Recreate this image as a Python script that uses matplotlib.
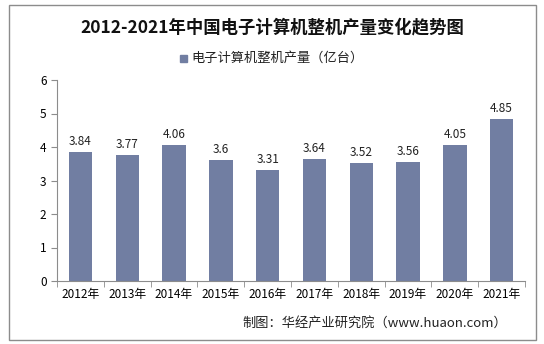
import matplotlib.pyplot as plt
import matplotlib.patches as mpatches
import numpy as np

plt.rcParams['font.family'] = ['Noto Sans CJK SC', 'DejaVu Sans']

years = ['2012年', '2013年', '2014年', '2015年', '2016年',
         '2017年', '2018年', '2019年', '2020年', '2021年']
output = [3.84, 3.77, 4.06, 3.6, 3.31, 3.64, 3.52, 3.56, 4.05, 4.85]
labels = ['3.84', '3.77', '4.06', '3.6', '3.31', '3.64', '3.52', '3.56', '4.05', '4.85']

bar_color = '#717ea2'
W, H = 544, 344

fig = plt.figure(figsize=(W / 100, H / 100), dpi=100)
# outer frame
fig.patches.append(mpatches.Rectangle((9 / W, 4 / H), 527 / W, 335 / H,
                                      transform=fig.transFigure, fill=False,
                                      edgecolor='#8c8c8c', linewidth=1.0))

ax = fig.add_axes([57 / W, 1 - 281 / H, 468 / W, 201 / H])
x = np.arange(len(years))
ax.bar(x, output, width=0.5, color=bar_color)
for xi, v, t in zip(x, output, labels):
    ax.text(xi, v + 0.12, t, ha='center', va='bottom', fontsize=8.5, color='#222222')

ax.set_xlim(-0.5, len(years) - 0.5)
ax.set_ylim(0, 6)
ax.set_yticks(range(0, 7))
ax.set_xticks(x)
ax.set_xticklabels(years, fontsize=8.5)
ax.set_xticks(np.arange(-0.5, len(years)), minor=True)
ax.tick_params(axis='x', which='major', length=0, pad=5)
ax.tick_params(axis='x', which='minor', length=4, color='#8c8c8c')
ax.tick_params(axis='y', length=4, color='#8c8c8c', labelsize=8.5)
for s in ['top', 'right']:
    ax.spines[s].set_visible(False)
for s in ['left', 'bottom']:
    ax.spines[s].set_color('#8c8c8c')

fig.text(0.5, 1 - 27 / H, '2012-2021年中国电子计算机整机产量变化趋势图',
         ha='center', va='center', fontsize=12.5, fontweight='bold', color='#111111')

# legend
fig.patches.append(mpatches.Rectangle((180 / W, 1 - 62 / H), 7 / W, 7 / H,
                                      transform=fig.transFigure, color=bar_color))
fig.text(191 / W, 1 - 58 / H, '电子计算机整机产量（亿台）', ha='left', va='center',
         fontsize=9.5, color='#222222')

fig.text(507 / W, 1 - 323 / H, '制图：华经产业研究院（www.huaon.com）',
         ha='right', va='center', fontsize=9.5, color='#222222')

fig.savefig('out.png', dpi=100)
